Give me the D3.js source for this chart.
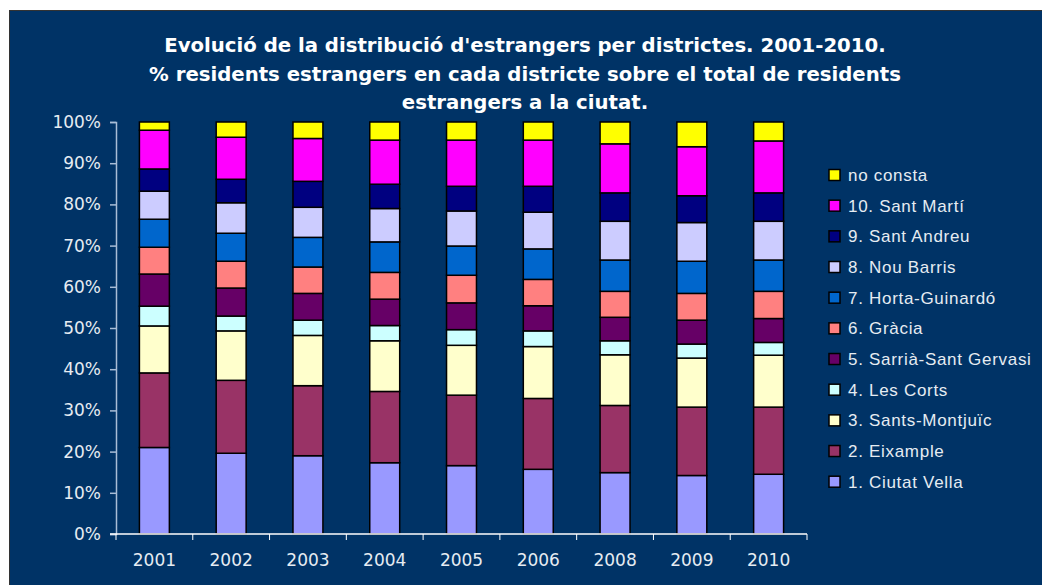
<!DOCTYPE html>
<html>
<head>
<meta charset="utf-8">
<script src="https://cdn.jsdelivr.net/npm/d3@7"></script>
<style>
  body { margin: 0; background: #fff; }
  svg { display: block; }
</style>
</head>
<body>
<div class="chart"></div>
<script>
// data (% of foreign residents per district)
const years = ["2001", "2002", "2003", "2004", "2005", "2006", "2008", "2009", "2010"];
const districts = ["1. Ciutat Vella", "2. Eixample", "3. Sants-Montjuïc", "4. Les Corts",
  "5. Sarrià-Sant Gervasi", "6. Gràcia", "7. Horta-Guinardó", "8. Nou Barris",
  "9. Sant Andreu", "10. Sant Martí", "no consta"];
const colors = ["#9999FF", "#993366", "#FFFFCC", "#CCFFFF", "#660066", "#FF8080",
  "#0066CC", "#CCCCFF", "#000080", "#FF00FF", "#FFFF00"];

const ciutatVella = [21.0, 19.6, 19.0, 17.3, 16.6, 15.7, 14.9, 14.2, 14.5];
const eixample    = [18.1, 17.7, 17.0, 17.3, 17.1, 17.2, 16.3, 16.6, 16.3];
const sants       = [11.4, 12.0, 12.2, 12.3, 12.1, 12.6, 12.3, 11.9, 12.6];
const lesCorts    = [4.8, 3.6, 3.7, 3.7, 3.8, 3.8, 3.4, 3.4, 3.1];
const sarria      = [7.8, 6.8, 6.5, 6.4, 6.5, 6.1, 5.7, 5.8, 5.8];
const gracia      = [6.5, 6.5, 6.4, 6.5, 6.7, 6.4, 6.3, 6.5, 6.6];
const horta       = [6.8, 6.8, 7.2, 7.4, 7.1, 7.4, 7.6, 7.8, 7.6];
const nouBarris   = [6.8, 7.4, 7.3, 8.1, 8.5, 8.9, 9.4, 9.4, 9.4];
const santAndreu  = [5.4, 5.7, 6.3, 5.9, 6.0, 6.3, 6.9, 6.5, 6.9];
const santMarti   = [9.4, 10.2, 10.4, 10.7, 11.2, 11.2, 11.9, 11.9, 12.6];
const noConsta    = [2.0, 3.7, 4.0, 4.4, 4.4, 4.4, 5.3, 6.0, 4.6];

const seriesValues = [ciutatVella, eixample, sants, lesCorts, sarria, gracia,
  horta, nouBarris, santAndreu, santMarti, noConsta];

const titleLines = [
  "Evolució de la distribució d'estrangers per districtes. 2001-2010.",
  "% residents estrangers en cada districte sobre el total de residents",
  "estrangers a la ciutat."
];

const svgWidth = 1042;
const svgHeight = 585;
const margin = { top: 122, right: 235, bottom: 51, left: 116 };
const width = svgWidth - margin.left - margin.right;
const height = svgHeight - margin.top - margin.bottom;

const svg = d3.select(".chart")
  .append("svg")
  .attr("width", svgWidth)
  .attr("height", svgHeight);

// chart background
svg.append("rect")
  .attr("x", 9.5).attr("y", 10.5)
  .attr("width", svgWidth - 9).attr("height", svgHeight - 10)
  .attr("fill", "#003366")
  .attr("stroke", "#333")
  .attr("stroke-width", 1);

// title
svg.append("g")
  .selectAll("text")
  .data(titleLines)
  .enter()
  .append("text")
  .attr("x", 525)
  .attr("y", (d, i) => 52 + i * 28.5)
  .attr("text-anchor", "middle")
  .attr("fill", "#fff")
  .style("font-family", "'DejaVu Sans', Verdana, sans-serif")
  .style("font-weight", "bold")
  .style("font-size", "19.7px")
  .text(d => d);

// build rows for the stack
const rows = years.map((y, i) => {
  const row = { year: y };
  districts.forEach((d, j) => { row[d] = seriesValues[j][i]; });
  return row;
});
const stacked = d3.stack().keys(districts).offset(d3.stackOffsetExpand)(rows);

const chartGroup = svg.append("g")
  .attr("transform", `translate(${margin.left}, ${margin.top})`);

const xScale = d3.scaleBand()
  .domain(years)
  .range([0, width])
  .paddingInner(0.61)
  .paddingOuter(0.305);

const yScale = d3.scaleLinear()
  .domain([0, 1])
  .range([height, 0]);

// bars
chartGroup.selectAll("g.series")
  .data(stacked)
  .enter()
  .append("g")
  .attr("class", "series")
  .attr("fill", (d, i) => colors[i])
  .selectAll("rect")
  .data(d => d)
  .enter()
  .append("rect")
  .attr("x", d => xScale(d.data.year))
  .attr("y", d => yScale(d[1]))
  .attr("width", xScale.bandwidth())
  .attr("height", d => yScale(d[0]) - yScale(d[1]))
  .attr("stroke", "#000")
  .attr("stroke-width", 1.5);

// y axis
const leftAxis = d3.axisLeft(yScale)
  .tickValues(d3.range(0, 1.01, 0.1))
  .tickFormat(d3.format(".0%"))
  .tickSize(6)
  .tickPadding(9);
const yAxis = chartGroup.append("g").call(leftAxis);
yAxis.select(".domain").attr("stroke", "#A9BDD6").attr("stroke-width", 1.5);
yAxis.selectAll(".tick line").attr("stroke", "#A9BDD6").attr("stroke-width", 1.5);
yAxis.selectAll("text")
  .attr("fill", "#E6ECF2")
  .style("font-family", "'DejaVu Sans', Verdana, sans-serif")
  .style("font-size", "17px");

// x axis with ticks between categories
const xAxis = chartGroup.append("g")
  .attr("transform", `translate(0, ${height})`)
  .call(d3.axisBottom(xScale).tickSize(0).tickPadding(20));
xAxis.select(".domain").remove();
xAxis.append("line")
  .attr("x1", -6).attr("x2", width)
  .attr("stroke", "#fff").attr("stroke-width", 1.5);
xAxis.selectAll("line.sep")
  .data(d3.range(years.length + 1))
  .enter()
  .append("line")
  .attr("class", "sep")
  .attr("x1", i => i * xScale.step())
  .attr("x2", i => i * xScale.step())
  .attr("y1", 0).attr("y2", 6)
  .attr("stroke", "#fff").attr("stroke-width", 1);
xAxis.selectAll("text")
  .attr("fill", "#E6ECF2")
  .style("font-family", "'DejaVu Sans', Verdana, sans-serif")
  .style("font-size", "17px");

// legend, top entry is "no consta"
const legendItems = districts.slice().reverse();
const legend = svg.append("g")
  .attr("transform", "translate(829, 175)");
const entry = legend.selectAll("g")
  .data(legendItems)
  .enter()
  .append("g")
  .attr("transform", (d, i) => `translate(0, ${i * 30.67})`);
entry.append("rect")
  .attr("x", 0).attr("y", -5.5)
  .attr("width", 11).attr("height", 11)
  .attr("fill", d => colors[districts.indexOf(d)])
  .attr("stroke", "#000").attr("stroke-width", 1.5);
entry.append("text")
  .attr("x", 19)
  .attr("y", 6)
  .attr("fill", "#E6ECF2")
  .style("font-family", "'Liberation Sans', Arial, sans-serif")
  .style("font-size", "17px")
  .style("letter-spacing", "0.7px")
  .text(d => d);
</script>
</body>
</html>
